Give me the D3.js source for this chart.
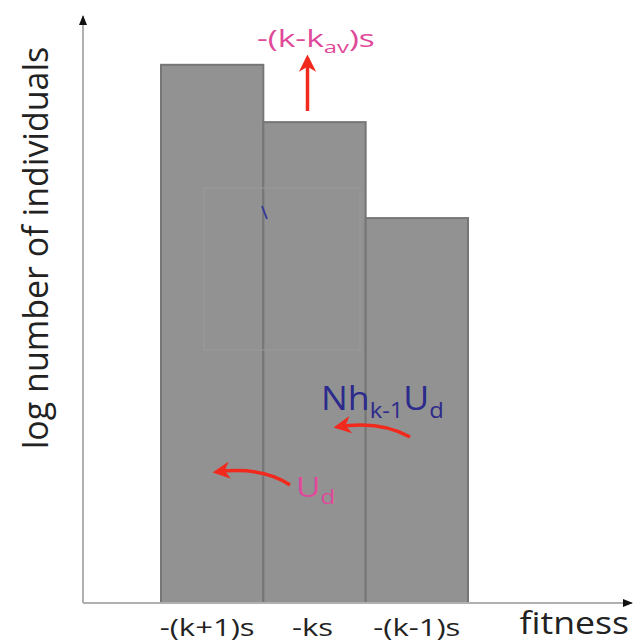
<!DOCTYPE html>
<html>
<head>
<meta charset="utf-8">
<script src="https://cdn.jsdelivr.net/npm/d3@7"></script>
<style>
  html, body { margin: 0; padding: 0; background: #fff; }
  svg { display: block; }
  text { font-family: "Open Sans", "Noto Sans", sans-serif; }
</style>
</head>
<body>
<div id="chart"></div>
<script>
// classes of individuals by number of mutations, and their (log) sizes
const categories = ["-(k+1)s", "-ks", "-(k-1)s"];
const logCounts = [9.2, 8.22, 6.58];
const xLabel = "fitness";
const yLabel = "log number of individuals";

const W = 635, H = 644;
const origin = { x: 83, y: 603 };

const svg = d3.select("#chart").append("svg")
  .attr("width", W).attr("height", H);

// scales
const x = d3.scaleBand().domain(categories).range([161, 468]).padding(0);
const y = d3.scaleLinear().domain([0, 10]).range([origin.y, 18]);

// markers
const defs = svg.append("defs");
defs.append("marker").attr("id", "axhead")
  .attr("viewBox", "0 0 10 10").attr("refX", 9).attr("refY", 5)
  .attr("markerWidth", 5).attr("markerHeight", 5)
  .attr("orient", "auto")
  .append("path").attr("d", "M0,1L10,5L0,9Z").attr("fill", "#111");
defs.append("marker").attr("id", "redhead")
  .attr("viewBox", "0 0 10 10").attr("refX", 8).attr("refY", 5)
  .attr("markerWidth", 5).attr("markerHeight", 5)
  .attr("orient", "auto")
  .append("path").attr("d", "M0,0L10,5L0,10L3,5Z").attr("fill", "#f22a1e");

// bars
svg.append("g").selectAll("rect")
  .data(categories)
  .join("rect")
  .attr("x", d => x(d))
  .attr("y", (d, i) => y(logCounts[i]))
  .attr("width", x.bandwidth())
  .attr("height", (d, i) => origin.y - y(logCounts[i]))
  .attr("fill", "#929292")
  .attr("stroke", "#767676")
  .attr("stroke-width", 2);

// faint leftover box inside the bars
svg.append("rect")
  .attr("x", 204).attr("y", 188).attr("width", 156).attr("height", 162)
  .attr("fill", "none").attr("stroke", "#9a9a9a").attr("stroke-width", 1);
svg.append("line")
  .attr("x1", 262).attr("y1", 206).attr("x2", 267).attr("y2", 219)
  .attr("stroke", "#3a3a9a").attr("stroke-width", 2);

// axes (drawn as arrows)
svg.append("line")
  .attr("x1", origin.x).attr("y1", origin.y).attr("x2", origin.x).attr("y2", 16)
  .attr("stroke", "#b0b0b0").attr("stroke-width", 2)
  .attr("marker-end", "url(#axhead)");
svg.append("line")
  .attr("x1", origin.x).attr("y1", origin.y).attr("x2", 632).attr("y2", origin.y)
  .attr("stroke", "#b0b0b0").attr("stroke-width", 2)
  .attr("marker-end", "url(#axhead)");

// tick labels (the source lettering is stretched sideways)
svg.append("g").selectAll("text")
  .data(categories)
  .join("text")
  .attr("transform", (d, i) => `translate(${x(d) + x.bandwidth() / 2 - [5, 2, 0][i]},636) scale(1.35,1)`)
  .attr("text-anchor", "middle")
  .attr("font-size", 23)
  .attr("fill", "#222")
  .text(d => d);

svg.append("text")
  .attr("transform", "translate(629,634) scale(1.15,1)")
  .attr("text-anchor", "end")
  .attr("font-size", 31)
  .attr("fill", "#222")
  .text(xLabel);

svg.append("text")
  .attr("transform", "translate(48,248) rotate(-90)")
  .attr("text-anchor", "middle")
  .attr("font-size", 34)
  .attr("fill", "#222")
  .text(yLabel);

// annotations
const pink = "#e0489a", navy = "#2c2a8c", red = "#f22a1e";

const t1 = svg.append("text").attr("transform", "translate(257,47) scale(1.4,1)")
  .attr("font-size", 24).attr("fill", pink);
t1.append("tspan").text("-(k-k");
t1.append("tspan").attr("dy", 6).attr("font-size", 17).text("av");
t1.append("tspan").attr("dy", -6).text(")s");

const mid = x(categories[1]) + x.bandwidth() / 2;
svg.append("line")
  .attr("x1", mid - 7).attr("y1", 111).attr("x2", mid - 7).attr("y2", 58)
  .attr("stroke", red).attr("stroke-width", 3.5)
  .attr("marker-end", "url(#redhead)");

const t2 = svg.append("text").attr("transform", "translate(321,410) scale(1.08,1)")
  .attr("font-size", 33).attr("fill", navy);
t2.append("tspan").text("Nh");
t2.append("tspan").attr("dy", 8).attr("font-size", 22).text("k-1");
t2.append("tspan").attr("dy", -8).text("U");
t2.append("tspan").attr("dy", 8).attr("font-size", 22).text("d");

svg.append("path")
  .attr("d", "M410,437 Q380,420 337,427")
  .attr("fill", "none").attr("stroke", red).attr("stroke-width", 3.5)
  .attr("marker-end", "url(#redhead)");

const t3 = svg.append("text").attr("transform", "translate(296,497) scale(1.2,1)")
  .attr("font-size", 28).attr("fill", pink);
t3.append("tspan").text("U");
t3.append("tspan").attr("dy", 7).attr("font-size", 20).text("d");

svg.append("path")
  .attr("d", "M290,485 Q262,466 216,472")
  .attr("fill", "none").attr("stroke", red).attr("stroke-width", 3.5)
  .attr("marker-end", "url(#redhead)");
</script>
</body>
</html>
